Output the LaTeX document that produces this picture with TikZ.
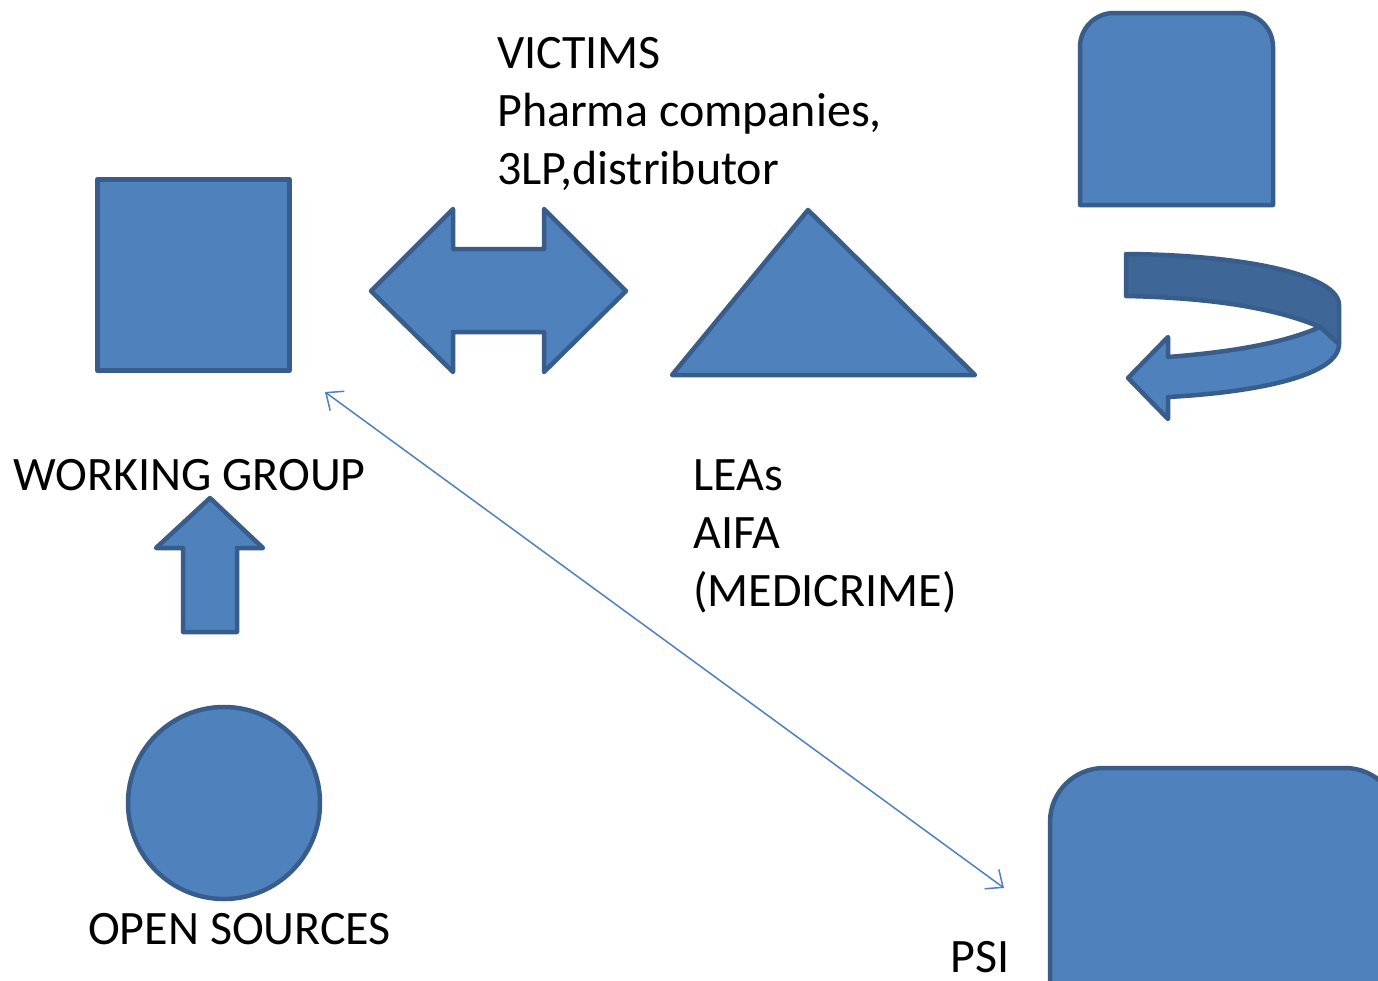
\documentclass[tikz,border=0pt]{standalone}
\usepackage{fontspec}
\setmainfont{Carlito}
\usetikzlibrary{arrows.meta}
\definecolor{shapefill}{HTML}{4F81BD}
\definecolor{shapeline}{HTML}{385D8A}
\definecolor{darkband}{HTML}{3E6696}
\tikzset{
  shp/.style={fill=shapefill, draw=shapeline, line width=4.5pt, line join=round},
  lbl/.style={inner sep=0pt, anchor=base west, align=left, font=\fontsize{48}{58}\selectfont},
  thin/.style={draw=shapefill, line width=1.5pt, {Straight Barb[length=14pt,width=24pt,line width=1.5pt]}-{Straight Barb[length=14pt,width=24pt,line width=1.5pt]}}
}
\begin{document}
\begin{tikzpicture}[x=1pt,y=-1pt]
\useasboundingbox (0,0) rectangle (1378,980);
\clip (0,0) rectangle (1378,980);
\fill[white] (0,0) rectangle (1378,980);

% working group square
\node[shp, minimum width=192pt, minimum height=191pt, inner sep=0pt] (wg) at (193.5,275) {};
% double arrow
\draw[shp] (371,291) -- (453,209) -- (453,249) -- (544,249) -- (544,209) -- (626,291)
  -- (544,372) -- (544,332) -- (453,332) -- (453,372) -- cycle;
% triangle
\draw[shp] (672,375) -- (808,210) -- (975,375) -- cycle;
% top right rounded rect
\draw[shp] (1080,205) -- (1080,47) arc[start angle=180,end angle=270,radius=34] -- (1239,13)
  arc[start angle=270,end angle=360,radius=34] -- (1273,205) -- cycle;
% curved arrow
\draw[shp, fill=darkband] (1126,254) .. controls (1250,255) and (1339,276) .. (1339,305)
  -- (1339,344) -- (1320,327) .. controls (1280,310) and (1220,298) .. (1126,296) -- cycle;
\draw[shp] (1320,327) .. controls (1280,345) and (1220,353) .. (1168,357) -- (1168,337)
  -- (1128,378) -- (1168,419) -- (1168,397) .. controls (1260,392) and (1339,375) .. (1339,344) -- cycle;
% up arrow
\draw[shp] (210,498) -- (263,548) -- (237,548) -- (237,632) -- (183,632) -- (183,548) -- (156,548) -- cycle;
% circle
\node[shp, circle, minimum size=192pt, inner sep=0pt] (os) at (224,803) {};
% bottom right rounded rect
\draw[shp] (1050,1000) -- (1050,822) arc[start angle=180,end angle=270,radius=54] -- (1345,768)
  arc[start angle=270,end angle=360,radius=54] -- (1399,1000) -- cycle;

% texts
\node[lbl] (victims) at (497,184) {VICTIMS\\Pharma companies,\\3LP,distributor};
\node[lbl] (wgtext) at (13,490) {WORKING GROUP};
\node[lbl] (leas) at (693,606) {LEAs\\AIFA\\(MEDICRIME)};
\node[lbl] (ostext) at (88,944) {OPEN SOURCES};
\node[lbl, text depth=0pt] (psi) at (950,972) {PSI};

% thin double arrow
\coordinate (wgend) at (325,392);
\coordinate (psiend) at (1004,888);
\draw[thin] (wgend) -- (psiend);
\end{tikzpicture}
\end{document}
